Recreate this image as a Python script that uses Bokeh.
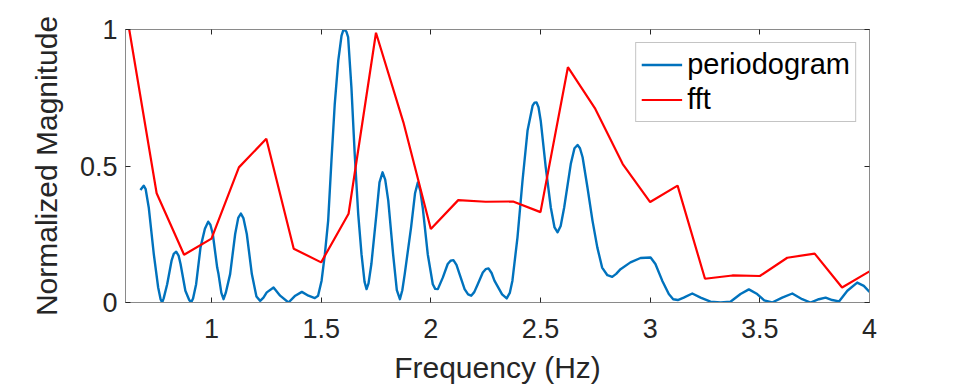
from bokeh.plotting import figure
from bokeh.models import FixedTicker, LinearAxis, Range1d, Legend, LegendItem, CustomLabelingPolicy
from bokeh.embed import file_html
from bokeh.resources import INLINE

# ---- data ----
fft_freq = [0.625, 0.75, 0.875, 1.0, 1.125, 1.25, 1.375, 1.5, 1.625, 1.75, 1.875, 2.0,
            2.125, 2.25, 2.375, 2.5, 2.625, 2.75, 2.875, 3.0, 3.125, 3.25, 3.375, 3.5,
            3.625, 3.75, 3.875, 4.0]
fft_mag = [1.0, 0.40, 0.175, 0.234, 0.495, 0.60, 0.197, 0.147, 0.325, 0.988, 0.66, 0.269,
           0.375, 0.369, 0.370, 0.331, 0.862, 0.709, 0.507, 0.368, 0.428, 0.087, 0.099, 0.097,
           0.164, 0.179, 0.055, 0.114]

pg_freq = [0.676, 0.691, 0.700, 0.714, 0.737, 0.757, 0.768, 0.775, 0.782, 0.798, 0.818, 0.828,
           0.839, 0.850, 0.859, 0.881, 0.898, 0.907, 0.916, 0.930, 0.950, 0.970, 0.985, 0.995,
           1.006, 1.026, 1.032, 1.045, 1.055, 1.065, 1.085, 1.108, 1.122, 1.134, 1.146, 1.161,
           1.184, 1.205, 1.222, 1.237, 1.252, 1.283, 1.313, 1.351, 1.382, 1.412, 1.442, 1.471,
           1.486, 1.502, 1.517, 1.532, 1.547, 1.562, 1.578, 1.593, 1.600, 1.608, 1.615, 1.623,
           1.638, 1.653, 1.669, 1.684, 1.698, 1.707, 1.716, 1.729, 1.752, 1.766, 1.780, 1.792,
           1.806, 1.828, 1.845, 1.859, 1.870, 1.881, 1.910, 1.928, 1.941, 1.952, 1.963, 1.986,
           2.009, 2.020, 2.032, 2.055, 2.077, 2.090, 2.103, 2.117, 2.131, 2.154, 2.170, 2.184,
           2.198, 2.214, 2.237, 2.250, 2.263, 2.277, 2.290, 2.304, 2.325, 2.346, 2.360, 2.372,
           2.395, 2.418, 2.441, 2.464, 2.473, 2.482, 2.491, 2.501, 2.524, 2.547, 2.564, 2.578,
           2.592, 2.608, 2.638, 2.655, 2.669, 2.680, 2.692, 2.714, 2.737, 2.759, 2.781, 2.805,
           2.827, 2.845, 2.865, 2.910, 2.956, 3.002, 3.024, 3.055, 3.085, 3.105, 3.126, 3.153,
           3.192, 3.230, 3.275, 3.321, 3.366, 3.412, 3.450, 3.488, 3.520, 3.556, 3.602, 3.648,
           3.693, 3.731, 3.769, 3.800, 3.830, 3.861, 3.899, 3.944, 3.974, 4.0]
pg_mag = [0.412, 0.428, 0.415, 0.348, 0.177, 0.055, 0.012, 0.0, 0.015, 0.067, 0.153, 0.178,
          0.186, 0.172, 0.141, 0.043, 0.010, 0.0, 0.015, 0.067, 0.202, 0.270, 0.296, 0.285,
          0.251, 0.128, 0.104, 0.035, 0.012, 0.035, 0.104, 0.251, 0.310, 0.326, 0.308, 0.251,
          0.104, 0.022, 0.006, 0.018, 0.037, 0.055, 0.025, 0.0, 0.025, 0.039, 0.025, 0.016,
          0.025, 0.080, 0.177, 0.300, 0.520, 0.727, 0.886, 0.978, 0.995, 0.999, 0.992, 0.972,
          0.788, 0.544, 0.324, 0.177, 0.075, 0.049, 0.070, 0.141, 0.324, 0.440, 0.477, 0.450,
          0.373, 0.177, 0.045, 0.012, 0.045, 0.104, 0.275, 0.400, 0.440, 0.410, 0.348, 0.177,
          0.067, 0.050, 0.049, 0.092, 0.141, 0.153, 0.155, 0.138, 0.104, 0.049, 0.030, 0.025,
          0.038, 0.067, 0.110, 0.122, 0.125, 0.108, 0.080, 0.060, 0.030, 0.015, 0.035, 0.080,
          0.238, 0.446, 0.630, 0.721, 0.732, 0.733, 0.715, 0.666, 0.495, 0.348, 0.275, 0.257,
          0.280, 0.348, 0.507, 0.565, 0.577, 0.565, 0.532, 0.422, 0.300, 0.202, 0.128, 0.100,
          0.094, 0.105, 0.122, 0.147, 0.163, 0.165, 0.141, 0.080, 0.031, 0.012, 0.009, 0.018,
          0.033, 0.018, 0.003, 0.0, 0.003, 0.031, 0.048, 0.031, 0.008, 0.0, 0.018, 0.033,
          0.012, 0.0, 0.012, 0.018, 0.009, 0.004, 0.043, 0.073, 0.061, 0.039]

x_ticks = [1, 1.5, 2, 2.5, 3, 3.5, 4]
x_tick_labels = ["1", "1.5", "2", "2.5", "3", "3.5", "4"]
y_ticks = [0, 0.5, 1]
y_tick_labels = ["0", "0.5", "1"]

x_label = "Frequency (Hz)"
y_label = "Normalized Magnitude"
series_names = ["periodogram", "fft"]

FONT = "Liberation Sans"
AX = "#8a8a8a"
TXT = "#262626"

p = figure(width=960, height=392, output_backend="svg", toolbar_location=None,
           x_range=Range1d(0.608, 4.0), y_range=Range1d(0, 1),
           min_border_left=125, min_border_right=91, min_border_top=29, min_border_bottom=90,
           x_axis_location=None, y_axis_location=None)
p.grid.visible = False
p.outline_line_color = AX
p.outline_line_width = 1
p.background_fill_color = "white"
p.border_fill_color = "white"

no_labels = CustomLabelingPolicy(code="return new Set()")


def style_axis(ax, ticks, labels, show_labels):
    ax.ticker = FixedTicker(ticks=ticks)
    ax.major_label_overrides = {t: l for t, l in zip(ticks, labels)}
    ax.minor_tick_line_color = None
    ax.major_tick_in = 5
    ax.major_tick_out = 0
    ax.major_tick_line_color = TXT
    ax.axis_line_color = AX
    ax.major_label_text_font = FONT
    ax.major_label_text_color = TXT
    ax.major_label_text_font_size = "27px"
    if not show_labels:
        ax.major_label_policy = no_labels
        ax.major_label_standoff = 0


xb = LinearAxis()
style_axis(xb, x_ticks, x_tick_labels, True)
xb.axis_label = x_label
xb.axis_label_text_font = FONT
xb.axis_label_text_font_size = "30px"
xb.axis_label_text_font_style = "normal"
xb.axis_label_text_color = TXT
xb.major_label_standoff = 16
xb.axis_label_standoff = 10
p.add_layout(xb, "below")

yl = LinearAxis()
style_axis(yl, y_ticks, y_tick_labels, True)
yl.axis_label = y_label
yl.axis_label_text_font = FONT
yl.axis_label_text_font_size = "30px"
yl.axis_label_text_font_style = "normal"
yl.axis_label_text_color = TXT
yl.major_label_standoff = 8
yl.axis_label_standoff = 14
p.add_layout(yl, "left")

xt = LinearAxis()
style_axis(xt, x_ticks, x_tick_labels, False)
p.add_layout(xt, "above")

yr = LinearAxis()
style_axis(yr, y_ticks, y_tick_labels, False)
p.add_layout(yr, "right")

r_pg = p.line(pg_freq, pg_mag, line_color="#0072BD", line_width=2.4, line_join="round")
r_fft = p.line(fft_freq, fft_mag, line_color="#FF0000", line_width=2.2)

legend = Legend(items=[LegendItem(label=series_names[0], renderers=[r_pg]),
                       LegendItem(label=series_names[1], renderers=[r_fft])],
                location="top_right")
legend.margin = 13
legend.padding = 5
legend.spacing = 2
legend.glyph_width = 41
legend.glyph_height = 33
legend.label_standoff = 5
legend.label_text_font = FONT
legend.label_text_font_size = "29px"
legend.label_text_color = "black"
legend.border_line_color = "#8a8a8a"
legend.border_line_width = 1.5
legend.background_fill_color = "white"
legend.background_fill_alpha = 1
p.add_layout(legend, "center")

open("out.html", "w").write(file_html(p, INLINE))
